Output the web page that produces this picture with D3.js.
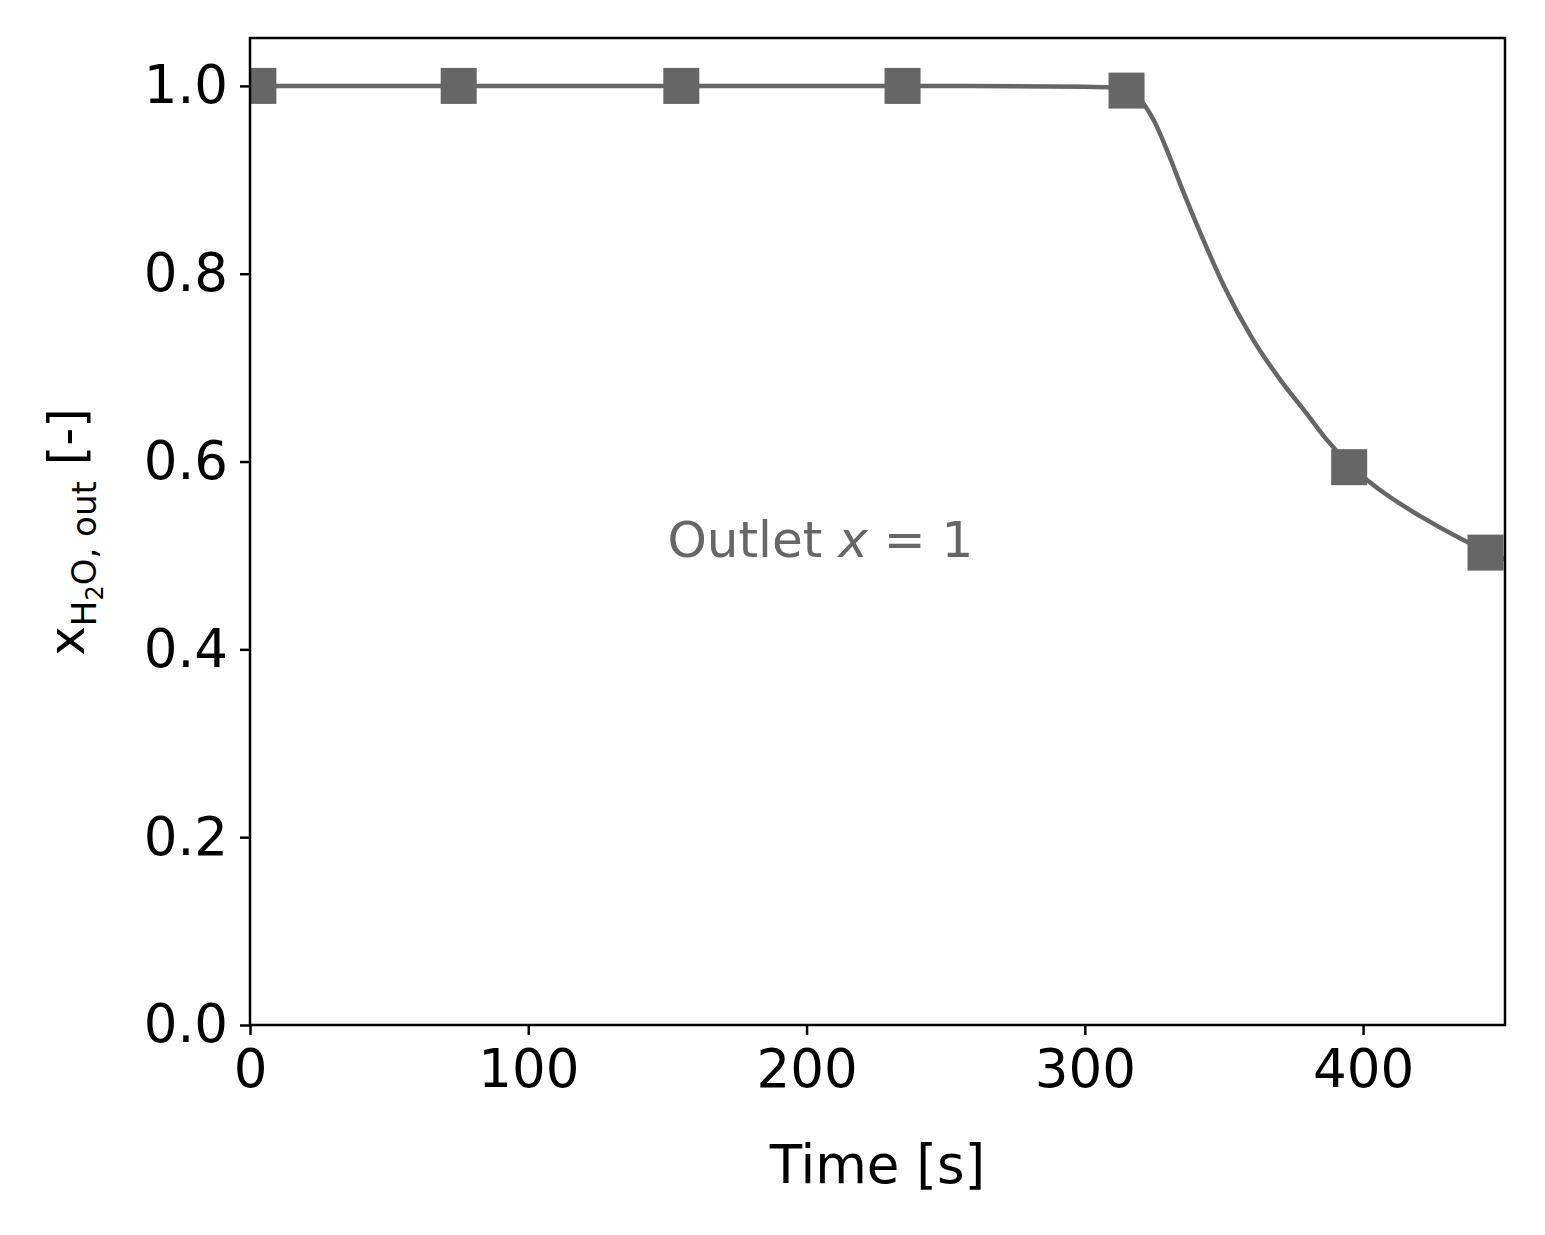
<!DOCTYPE html>
<html>
<head>
<meta charset="UTF-8" />
<style>
  body, html { margin: 0; padding: 0; background: #fff; }
  text { font-family: "DejaVu Sans", sans-serif; }
</style>
</head>
<body>
<svg id="chart" width="1545" height="1235"></svg>
<script src="https://d3js.org/d3.v7.min.js"></script>
<script>
const lineTime = [0, 50, 100, 150, 200, 250, 300, 310, 315, 320, 325, 330, 335, 342, 350, 360, 370, 380, 387, 395, 405, 421, 435, 451];
const lineValue = [1.0, 1.0, 1.0, 1.0, 1.0, 1.0, 0.999, 0.998, 0.995, 0.985, 0.962, 0.928, 0.89, 0.84, 0.787, 0.732, 0.688, 0.650, 0.623, 0.597, 0.572, 0.541, 0.518, 0.496];
const markerTime = [3, 75, 155, 234.5, 315, 395, 444];
const markerValue = [1.0, 1.0, 1.0, 1.0, 0.995, 0.594, 0.503];
const xTicks = [0, 100, 200, 300, 400];
const yTicks = [0.0, 0.2, 0.4, 0.6, 0.8, 1.0];

const L = 250, R = 1505, T = 38, B = 1025;
const svg = d3.select("#chart");
const x = d3.scaleLinear().domain([0, 451]).range([L, R]);
const y = d3.scaleLinear().domain([0, 1.051]).range([B, T]);
const grey = "#666666";

svg.append("defs").append("clipPath").attr("id", "clip")
  .append("rect").attr("x", L).attr("y", T).attr("width", R - L).attr("height", B - T);

const g = svg.append("g").attr("clip-path", "url(#clip)");
g.append("path")
  .datum(lineTime.map((t, i) => [t, lineValue[i]]))
  .attr("fill", "none").attr("stroke", grey).attr("stroke-width", 4.5)
  .attr("d", d3.line().x(d => x(d[0])).y(d => y(d[1])).curve(d3.curveMonotoneX));

const ms = 36;
g.selectAll("rect.m").data(markerTime).join("rect")
  .attr("x", (d) => x(d) - ms / 2)
  .attr("y", (d, i) => y(markerValue[i]) - ms / 2)
  .attr("width", ms).attr("height", ms).attr("fill", grey);

const xAxis = svg.append("g").attr("transform", `translate(0,${B})`)
  .call(d3.axisBottom(x).tickValues(xTicks).tickFormat(d3.format("d")).tickSize(10).tickPadding(12));
const yAxis = svg.append("g").attr("transform", `translate(${L},0)`)
  .call(d3.axisLeft(y).tickValues(yTicks).tickFormat(d3.format(".1f")).tickSize(10).tickPadding(12));
[xAxis, yAxis].forEach(a => {
  a.select(".domain").remove();
  a.selectAll("line").attr("stroke", "#000").attr("stroke-width", 2.5);
  a.selectAll("text").attr("font-size", 53).attr("fill", "#000").attr("font-family", "DejaVu Sans");
});
xAxis.selectAll("text").attr("dy", "0.75em");

svg.append("rect").attr("x", L).attr("y", T).attr("width", R - L).attr("height", B - T)
  .attr("fill", "none").attr("stroke", "#000").attr("stroke-width", 2.5);

svg.append("text").attr("x", (L + R) / 2).attr("y", 1183).attr("text-anchor", "middle")
  .attr("font-size", 53).text("Time [s]");

const yl = svg.append("text").attr("transform", "translate(84,532) rotate(-90)")
  .attr("text-anchor", "middle").attr("font-size", 50);
yl.append("tspan").text("x");
yl.append("tspan").attr("font-size", 34).attr("dy", 12).text("H");
yl.append("tspan").attr("font-size", 24).attr("dy", 7).text("2");
yl.append("tspan").attr("font-size", 34).attr("dy", -7).text("O, out");
yl.append("tspan").attr("dy", -12).text(" [-]");

const ann = svg.append("text").attr("x", x(150)).attr("y", 557).attr("font-size", 50).attr("fill", grey);
ann.append("tspan").text("Outlet ");
ann.append("tspan").attr("font-style", "italic").text("x");
ann.append("tspan").text(" = 1");
</script>
</body>
</html>
